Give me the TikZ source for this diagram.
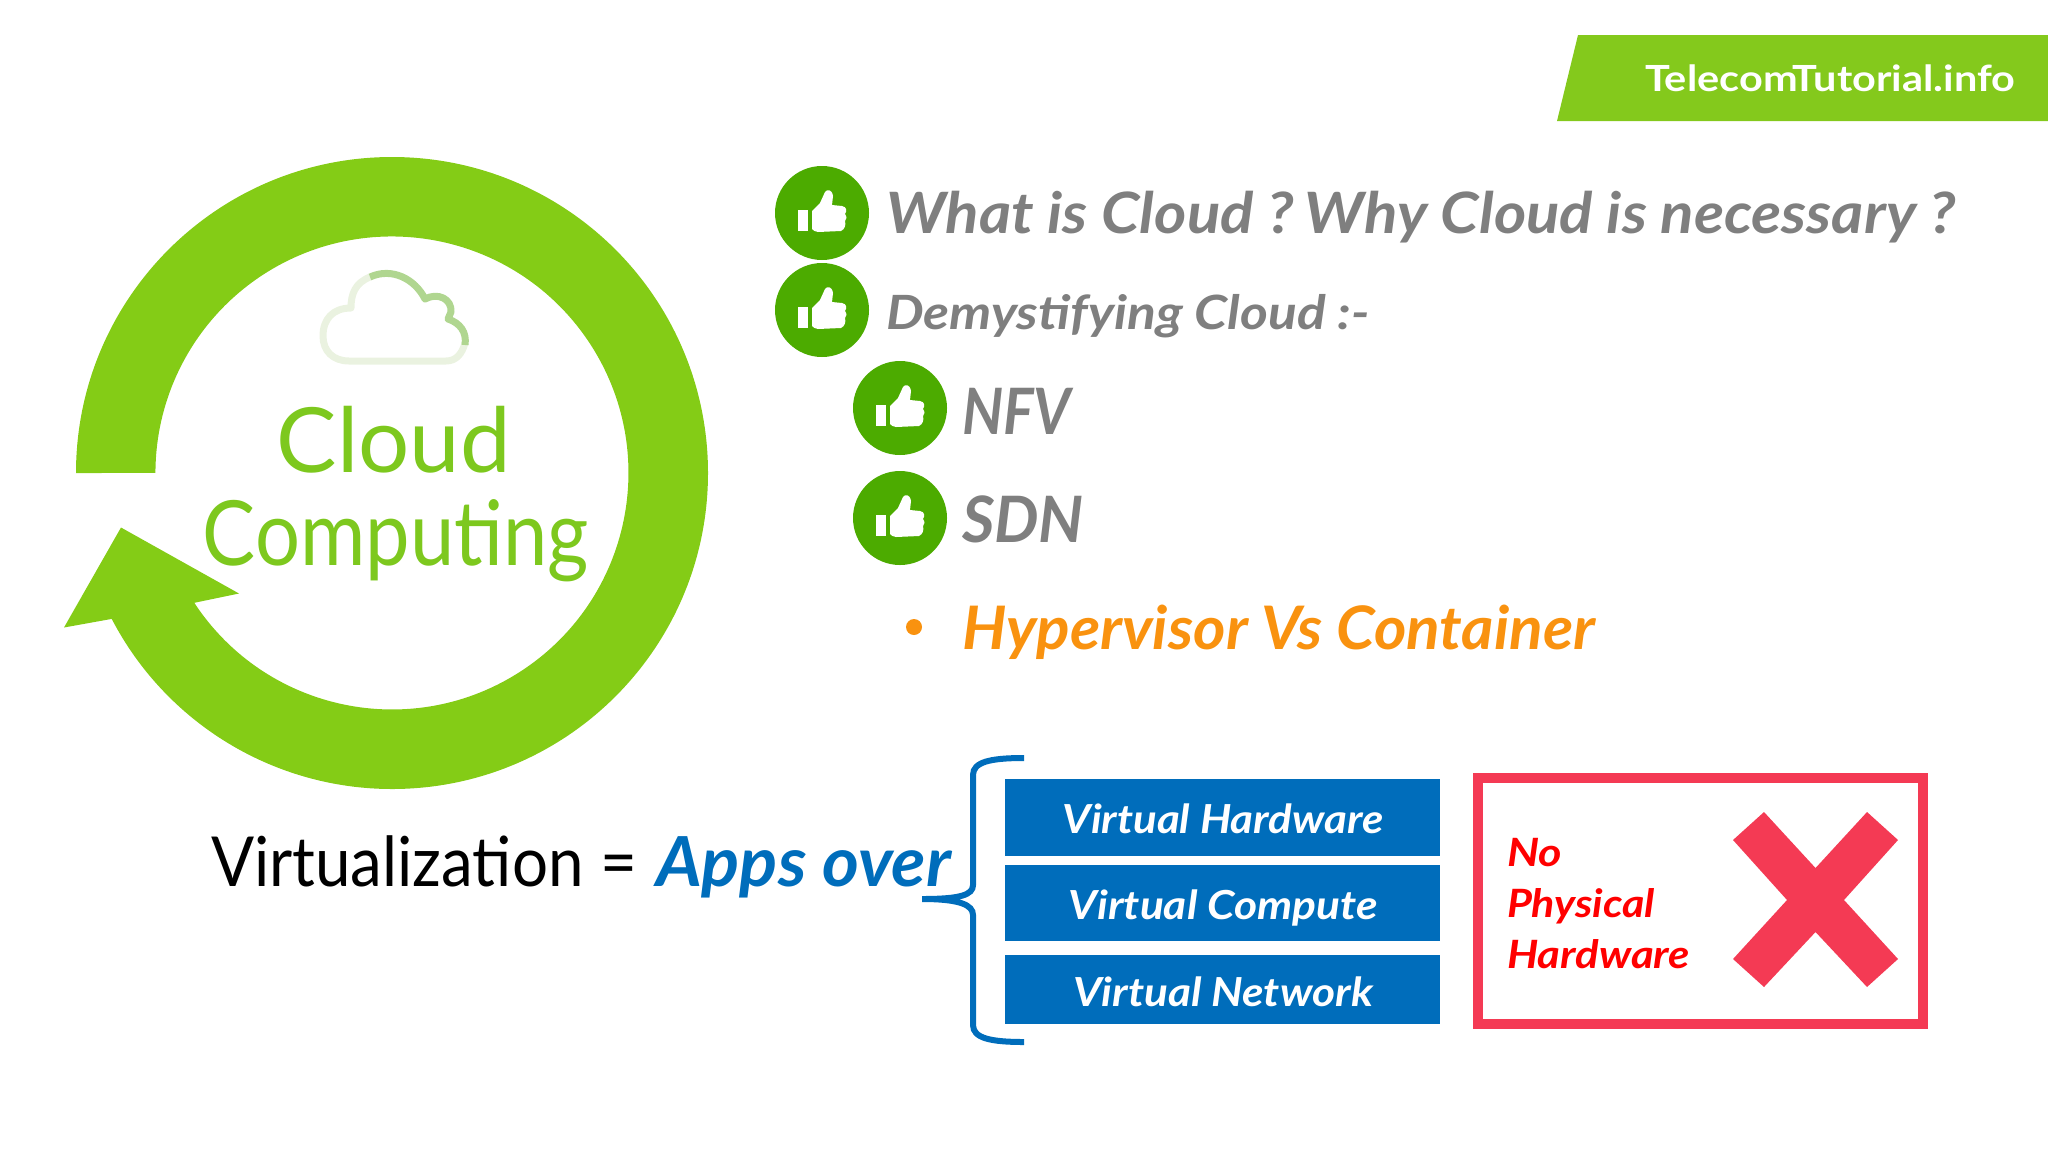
\documentclass[tikz,border=0pt]{standalone}
\usepackage{graphicx}
\usepackage{fontspec}
\setmainfont{Lato}
\definecolor{ringgreen}{HTML}{84CC16}
\definecolor{cloudtxt}{HTML}{7DC81E}
\definecolor{bannergreen}{HTML}{84C91C}
\definecolor{thumbgreen}{HTML}{4CAB00}
\definecolor{greytxt}{HTML}{7F7F7F}
\definecolor{orangetxt}{HTML}{F9920F}
\definecolor{bluefill}{HTML}{006DBB}
\definecolor{redline}{HTML}{F43A54}
\definecolor{pale}{HTML}{EAF2E0}
\definecolor{paledark}{HTML}{B0D690}
\newcommand{\fitw}[2]{\resizebox{#1pt}{\height}{#2}}
\newcommand{\fsz}[1]{\fontsize{#1pt}{#1pt}\selectfont}
\tikzset{
  lbl/.style={inner sep=0pt,outer sep=0pt,anchor=base west},
  lblc/.style={inner sep=0pt,outer sep=0pt,anchor=base},
  disc/.style={circle,fill=thumbgreen,inner sep=0pt,minimum size=47pt},
  vbox/.style={rectangle,fill=bluefill,inner sep=0pt,anchor=north west},
  thumbs/.pic={
    \fill[white] (-24,-3) rectangle (-14,18);
    \fill[white] (-10,-2) -- (-2,-10) -- (3,-21) .. controls (5,-24) and (10,-24) .. (11,-17)
      -- (10,-8) -- (20,-7) .. controls (25,-6) and (25,-2) .. (23,1)
      .. controls (25,4) and (25,6) .. (23,8) .. controls (24,12) and (23,16) .. (19,18)
      -- (-4,19) .. controls (-7,19) and (-9,17) .. (-10,16) -- cycle;
  }
}
\begin{document}
\begin{tikzpicture}[x=0.5pt,y=-0.5pt]
\useasboundingbox (0,0) rectangle (2048,1152);
% banner
\fill[bannergreen] (1578,35) -- (2048,35) -- (2048,121) -- (1557,121) -- cycle;
\node[lbl,text=white,font=\bfseries\fsz{18}] (banner) at (1645,91) {\fitw{185}{TelecomTutorial.info}};
% ring arrow
\fill[ringgreen] (76,473) arc[start angle=180,end angle=512.5,radius=316]
  -- (64,627.5) -- (121,527.5) -- (239,593.5) -- (194.3,602.8)
  arc[start angle=506.7,end angle=180,radius=236.5] -- cycle;
% cloud icon
\draw[pale,line width=3.5pt,line join=round] (370,277) .. controls (355,283) and (351,294) .. (351,308)
  .. controls (333,308) and (323,319) .. (323,336) .. controls (323,351) and (333,361) .. (349,361)
  -- (446,361) .. controls (456,361) and (462,354) .. (465,343);
\draw[paledark,line width=3.5pt,line join=round] (370,277) .. controls (392,267) and (415,279) .. (425,299)
  .. controls (438,292) and (452,299) .. (451,312) -- (448,319) .. controls (460,323) and (467,332) .. (465,345);
\node[lblc,text=cloudtxt,font=\fsz{45}] (cloudw) at (394,472) {\fitw{117}{Cloud}};
\node[lblc,text=cloudtxt,font=\fsz{45}] (compw) at (396,565) {\fitw{193}{Computing}};
% thumbs
\node[disc] (d1) at (822,213) {}; \pic at (d1.center) {thumbs};
\node[disc] (d2) at (822,310) {}; \pic at (d2.center) {thumbs};
\node[disc] (d3) at (900,408) {}; \pic at (d3.center) {thumbs};
\node[disc] (d4) at (900,518) {}; \pic at (d4.center) {thumbs};
% list
\node[lbl,text=greytxt,font=\bfseries\itshape\fsz{28.5}] (t1) at (886,233) {\fitw{535}{What is Cloud ?\,Why Cloud is necessary ?}};
\node[lbl,text=greytxt,font=\bfseries\itshape\fsz{23.6}] (t2) at (886,329) {\fitw{242}{Demystifying Cloud :-}};
\node[lbl,text=greytxt,font=\bfseries\itshape\fsz{32}] (t3) at (962,434) {\fitw{54.5}{NFV}};
\node[lbl,text=greytxt,font=\bfseries\itshape\fsz{32}] (t4) at (962,542) {\fitw{61}{SDN}};
\fill[orangetxt] (914,627) circle (8);
\node[lbl,text=orangetxt,font=\bfseries\itshape\fsz{30}] (t5) at (962,649) {\fitw{316.5}{Hypervisor Vs Container}};
% virtualization
\node[lbl,font=\fsz{34.5}] (v1) at (211,886) {\fitw{213}{Virtualization =}};
\node[lbl,text=bluefill,font=\bfseries\itshape\fsz{34.5}] (v2) at (656,886) {\fitw{147.5}{Apps over}};
% brace
\draw[bluefill,line width=3pt] (1024,758) .. controls (990,758) and (973,762) .. (973,775)
  -- (973,885) .. controls (973,895) and (960,899) .. (922,899)
  .. controls (960,899) and (973,905) .. (973,915) -- (973,1025)
  .. controls (973,1038) and (990,1042) .. (1024,1042);
% boxes
\node[vbox,minimum width=217.5pt,minimum height=38.5pt] (b1) at (1005,779) {};
\node[vbox,minimum width=217.5pt,minimum height=38pt] (b2) at (1005,865) {};
\node[vbox,minimum width=217.5pt,minimum height=34.5pt] (b3) at (1005,955) {};
\node[lblc,text=white,font=\bfseries\itshape\fsz{20}] (bt1) at (1223,833) {\fitw{160.5}{Virtual Hardware}};
\node[lblc,text=white,font=\bfseries\itshape\fsz{20}] (bt2) at (1223,919) {\fitw{154.5}{Virtual Compute}};
\node[lblc,text=white,font=\bfseries\itshape\fsz{20}] (bt3) at (1223,1006) {\fitw{150}{Virtual Network}};
% red box
\draw[redline,line width=4.7pt] (1478,778) rectangle (1923,1024);
\fill[redline] (1764,812) -- (1815.5,868) -- (1867,812) -- (1898,840) -- (1844,900) -- (1898,959)
  -- (1867,987) -- (1815.5,932) -- (1764,987) -- (1733,959) -- (1787,900) -- (1733,840) -- cycle;
\node[lbl,text=red,font=\bfseries\itshape\fsz{19.5}] (r1) at (1507,866) {\fitw{27.5}{No}};
\node[lbl,text=red,font=\bfseries\itshape\fsz{19.5}] (r2) at (1507,917) {\fitw{74}{Physical}};
\node[lbl,text=red,font=\bfseries\itshape\fsz{19.5}] (r3) at (1507,968) {\fitw{91.5}{Hardware}};
\end{tikzpicture}
\end{document}
